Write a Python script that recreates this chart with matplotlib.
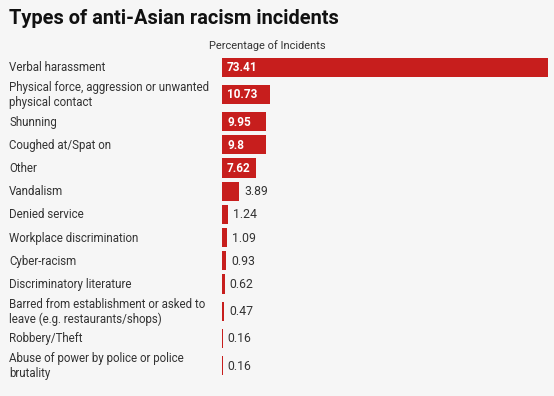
import matplotlib
matplotlib.use("Agg")
import matplotlib.pyplot as plt
import matplotlib.transforms as mtransforms
import numpy as np

# data
categories = [
    "Verbal harassment",
    "Physical force, aggression or unwanted\nphysical contact",
    "Shunning",
    "Coughed at/Spat on",
    "Other",
    "Vandalism",
    "Denied service",
    "Workplace discrimination",
    "Cyber-racism",
    "Discriminatory literature",
    "Barred from establishment or asked to\nleave (e.g. restaurants/shops)",
    "Robbery/Theft",
    "Abuse of power by police or police\nbrutality",
]
values = [73.41, 10.73, 9.95, 9.8, 7.62, 3.89, 1.24, 1.09, 0.93, 0.62, 0.47, 0.16, 0.16]
value_labels = ["73.41", "10.73", "9.95", "9.8", "7.62", "3.89", "1.24", "1.09",
                "0.93", "0.62", "0.47", "0.16", "0.16"]

title = "Types of anti-Asian racism incidents"
column_header = "Percentage of Incidents"

W, H, DPI = 554, 396, 100
BG = "#f6f6f6"
RED = "#c71e1d"
TXT = "#333333"

plt.rcParams['font.family'] = ['Roboto', 'DejaVu Sans']

fig = plt.figure(figsize=(W / DPI, H / DPI), dpi=DPI, facecolor=BG)

# row layout (pixels): two-line labels get taller rows
row_h = [23.2 + 8.0 * c.count("\n") for c in categories]
centers = []
pos = 67.3 - row_h[0] / 2
for h in row_h:
    centers.append(pos + h / 2)
    pos += h

# bar axes: x in data units, y in pixel rows
x0, x1 = 222, 548
ax = fig.add_axes([x0 / W, 0, (x1 - x0) / W, 1])
ax.set_facecolor("none")
ax.set_xlim(0, max(values))
ax.set_ylim(H, 0)
ax.axis("off")

ax.barh(centers, values, height=19.2, color=RED, edgecolor="none")

px = max(values) / (x1 - x0)  # data units per pixel
for c, v, lab in zip(centers, values, value_labels):
    if v >= 7:
        ax.text(5 * px, c + 0.5, lab, ha="left", va="center", color="white",
                fontsize=8.5, fontweight="semibold")
    else:
        ax.text(v + 5 * px, c + 0.5, lab, ha="left", va="center", color=TXT,
                fontsize=8.8)

trans = mtransforms.blended_transform_factory(fig.transFigure, ax.transData)
for c, cat in zip(centers, categories):
    ax.text(9 / W, c + 0.5, cat, transform=trans, ha="left", va="center",
            color=TXT, fontsize=8.3, linespacing=1.2)

ax.text(209 / W, 46, column_header, transform=trans, ha="left", va="center",
        color=TXT, fontsize=7.9)

fig.text(9 / W, 1 - 18.5 / H, title, ha="left", va="center",
         fontsize=14.4, fontweight="bold", color="#111111")

fig.savefig("out.png", dpi=DPI, facecolor=BG)
